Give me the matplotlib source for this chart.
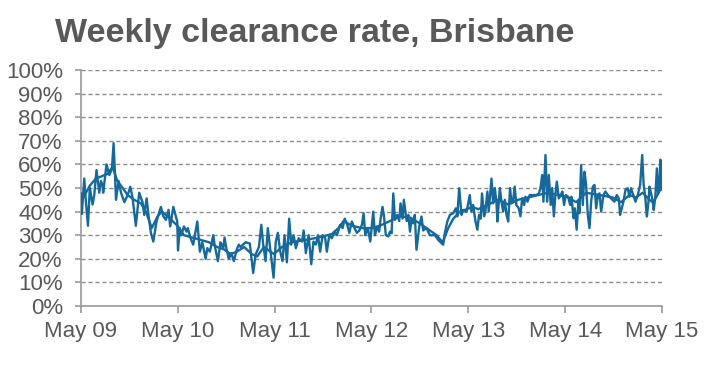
import matplotlib
matplotlib.use("Agg")
from matplotlib import pyplot as plt
import numpy as np

# weeks since start of May 2009, weekly clearance rate (%)
weekly_wk = [0, 0.5, 1.8, 2.7, 3.8, 4.8, 6.3, 7.2, 8.4, 9.9, 10.8, 11.7, 12.0, 13.8, 15.3, 16.7, 17.6,
             18.3, 18.9, 20.3, 21.6, 23.4, 25.2, 26.6, 27.8, 28.7, 29.6, 31.4, 33.2, 34.1, 35.4, 36.5,
             37.7, 39.0, 40.8, 43.1, 44.4, 45.8, 47.2, 48.1, 49.8,
             51.9, 52.3, 53.3, 54.1, 55.5, 56.9, 57.6, 59.1, 60.5, 62.7, 64.1, 65.4, 67.2, 68.1, 69.5,
             71.3, 72.0, 73.8, 75.2, 76.7, 77.4, 78.5, 79.7, 81.0, 82.4, 83.9, 85.1, 86.0, 88.7, 91.0,
             92.8, 94.1, 95.9, 97.2, 98.2, 99.5, 100.7, 102.2,
             103.8, 105.0, 106.1, 107.4, 108.6, 109.7, 111.0, 112.2, 113.3, 114.6, 115.8, 117.3, 119.1,
             120.0, 121.2, 122.7, 124.1, 125.3, 126.6, 127.7, 128.9, 130.2, 131.6, 132.5, 133.8, 135.2,
             136.7, 137.9, 139.7, 141.0, 142.1, 143.3, 144.6, 146.0, 147.4, 148.7, 150.0, 151.4, 152.3,
             153.2, 154.6, 155.9,
             157.5, 158.4, 159.7, 160.7, 161.4, 162.5, 163.2, 164.3, 165.6, 166.5, 167.4, 168.3, 169.2,
             170.4, 171.5, 172.2, 173.3, 174.0, 175.5, 176.4, 177.3, 178.2, 179.0, 179.9, 180.8, 182.3,
             183.5, 184.4, 186.2, 188.0, 190.7, 192.5, 194.3, 195.2, 196.1, 197.4, 198.8, 200.6, 202.0,
             202.8, 203.8, 205.1, 206.0, 207.8,
             209.5, 210.4, 211.3, 212.6, 213.6, 214.5, 215.4, 216.1, 217.2, 217.9, 219.0, 219.7, 221.2,
             222.1, 223.0, 223.9, 224.4, 225.7, 226.6, 227.5, 228.4, 229.3, 230.2, 231.2, 232.0, 232.8,
             233.7, 234.6, 235.9, 236.8, 237.7, 238.8, 239.5, 240.6, 241.8, 243.6, 245.4, 246.7, 247.6,
             248.5, 249.2, 250.3, 251.2, 252.1, 253.1, 253.9, 254.8, 255.7, 256.4, 257.5, 258.5, 259.4,
             260.3, 261.2, 262.5,
             263.6, 264.3, 265.4, 266.1, 267.1, 268.0, 268.6, 269.5, 270.4, 271.3, 272.2, 273.1, 274.0,
             274.9, 275.8, 276.7, 277.6, 278.5, 279.4, 280.3, 281.5, 282.6, 283.9, 285.6, 287.4, 288.7,
             289.8, 290.5, 291.6, 292.3, 293.4, 294.6, 295.5, 296.4, 297.3, 298.8, 300.0, 301.3, 302.4,
             303.2, 304.1, 304.9, 305.8, 306.3, 307.2, 308.1, 308.6, 309.5, 310.3, 311.0, 311.7, 312.2,
             312.8, 313.1]
weekly_pct = [47.7, 39, 54, 44, 34, 50, 43, 47, 57.6, 48, 53, 51, 48, 60, 55.5, 58, 69,
              57, 45, 53, 48, 44, 47, 50.5, 46, 40, 34, 48, 44, 38.6, 45.6, 38,
              31, 27.3, 36, 42, 38, 36.5, 40.7, 33.7, 42,
              35.8, 23.5, 33, 30, 33.7, 31.5, 33, 28.7, 26, 35.8, 23, 27, 20, 24.5, 23,
              30, 26, 19, 27, 24.5, 29, 23.8, 20, 22.4, 19, 23.8, 26, 25, 27, 26.5,
              14, 21.7, 25, 34.4, 26, 19, 33, 23,
              12, 27.3, 31, 23, 19, 30, 18.5, 37, 26, 30, 24.5, 28.7, 27.3,
              32, 22.4, 30, 17.7, 27.3, 26, 30, 23, 30, 28.7, 23, 30, 28.7,
              31.5, 30, 34.4, 33, 37, 35, 31, 35.8, 33, 31, 32, 34.4, 39.3,
              30, 33, 27.3,
              40, 30, 33.7, 31.5, 36.5, 42, 38.6, 30, 29.5, 31.5, 30.8, 47.7, 36.5,
              38.6, 36, 43.5, 37, 45, 36, 38.6, 31.5, 37, 35, 38.6, 23.8, 33.7,
              37.9, 32, 33, 30, 30, 28, 26.6, 26, 31, 35.8, 38.6, 39.3, 41.4,
              38, 49.9, 38.6, 40.7, 40,
              47, 40, 42.8, 35.8, 32.3, 38.6, 37, 47.7, 38, 40, 48.5, 40, 54,
              43.5, 50, 43.5, 35.8, 50, 44.2, 40, 45, 38.6, 35.8, 50, 43.5, 44.2,
              50.6, 42.8, 41.4, 38, 45.6, 42.8, 46.3, 44.2, 47, 47, 47, 47.7, 50,
              55.5, 44.2, 64, 44.2, 55.5, 42.8, 50, 38, 47.7, 52.7, 45.6, 47, 48.5,
              42.8, 47, 46.3,
              42.8, 46.3, 37.2, 41.4, 32.3, 44.2, 39.3, 59.7, 42.8, 56.9, 51.3, 38.6, 33,
              44.2, 50.6, 51.3, 41.4, 47, 47.7, 40, 47, 48.5, 47, 45.6, 44.2, 47,
              45.6, 38.6, 42.1, 44.2, 49.2, 49.9, 46.3, 49.9, 47.7, 44.2, 47, 51.3, 64,
              51.3, 45.6, 37.9, 44.2, 50.6, 47.7, 44.2, 40.7, 46.3, 58.3, 47.7, 52.7, 62,
              49.2, 55.5]

# smoothed (four-week average) series
avg_wk = [0, 4.8, 8.1, 14.4, 17.1, 19.6, 22.5, 25.2, 28.7, 32.3, 35, 38.2, 41.3, 43.6, 46.7, 49.4,
          52, 55.5, 60, 64.5, 69, 73.4, 77, 80.6, 84, 88, 92, 95, 98.6, 104, 108.3, 113.7, 120.9,
          128, 135.2, 138.8, 141.5, 146, 151.4, 156.8, 161.1, 166.5, 171.9, 177.3, 182.6, 188,
          191.6, 194.9, 197.9, 200.6, 204.2, 207.8, 211, 214, 219.4, 224.8, 230.2, 235.5, 240.9,
          246.3, 251.7, 257.1, 262.5, 266.8, 272.2, 279.4, 286.5, 291, 295.5, 299.1, 302.7, 306.3,
          308.1, 309.9, 312.6, 313.1]
avg_pct = [44, 51, 54, 56, 59, 53, 50, 47, 45, 43.5, 40, 33, 38, 40, 38, 36,
           34, 30, 29, 28, 27, 25, 24, 22, 23, 25, 22, 21, 25, 22, 25, 27, 28,
           29, 30.5, 33, 36, 34, 33, 33, 34, 36, 38, 37.5, 35, 32,
           30, 27, 33, 37, 40, 41, 42, 41, 43, 45, 43, 45, 46,
           47, 48, 47, 46, 44, 48, 47, 46, 44, 47, 46, 48, 45,
           44, 46, 50, 51]

tick_labels = ["May 09", "May 10", "May 11", "May 12", "May 13", "May 14", "May 15"]
weeks_per_year = 52.18

line_col = "#16699b"
text_col = "#595959"
plt.rcParams['font.family'] = ["Liberation Sans", "DejaVu Sans"]

fig = plt.figure(figsize=(7.16, 3.66), dpi=100)
ax = fig.add_axes([0.113, 0.164, 0.8116, 0.6447])

ax.plot(avg_wk, avg_pct, color=line_col, lw=1.7, zorder=3)
ax.plot(weekly_wk, weekly_pct, color=line_col, lw=1.7, zorder=3)

ax.set_xlim(0, 6 * weeks_per_year)
ax.set_ylim(0, 100)
ax.set_xticks([i * weeks_per_year for i in range(len(tick_labels))])
ax.set_xticklabels(tick_labels)
ax.set_yticks(np.arange(0, 101, 10))
ax.set_yticklabels([f"{v}%" for v in range(0, 101, 10)])

ax.grid(axis="y", color="#8c8c8c", linestyle=(0, (3, 2)), lw=1.0)
ax.set_axisbelow(True)
for s in ["top", "right"]:
    ax.spines[s].set_visible(False)
for s in ["left", "bottom"]:
    ax.spines[s].set_color("#9a9a9a")
    ax.spines[s].set_linewidth(1.2)
ax.tick_params(axis="both", colors="#9a9a9a", length=5, width=1.2, labelsize=16,
               labelcolor=text_col)
ax.tick_params(axis="x", pad=6)
ax.tick_params(axis="y", pad=9, length=4)

fig.text(0.077, 0.885, "Weekly clearance rate, Brisbane", fontsize=24.5, fontweight="bold",
         color=text_col, ha="left", va="baseline")

plt.savefig("out.png", dpi=100)
